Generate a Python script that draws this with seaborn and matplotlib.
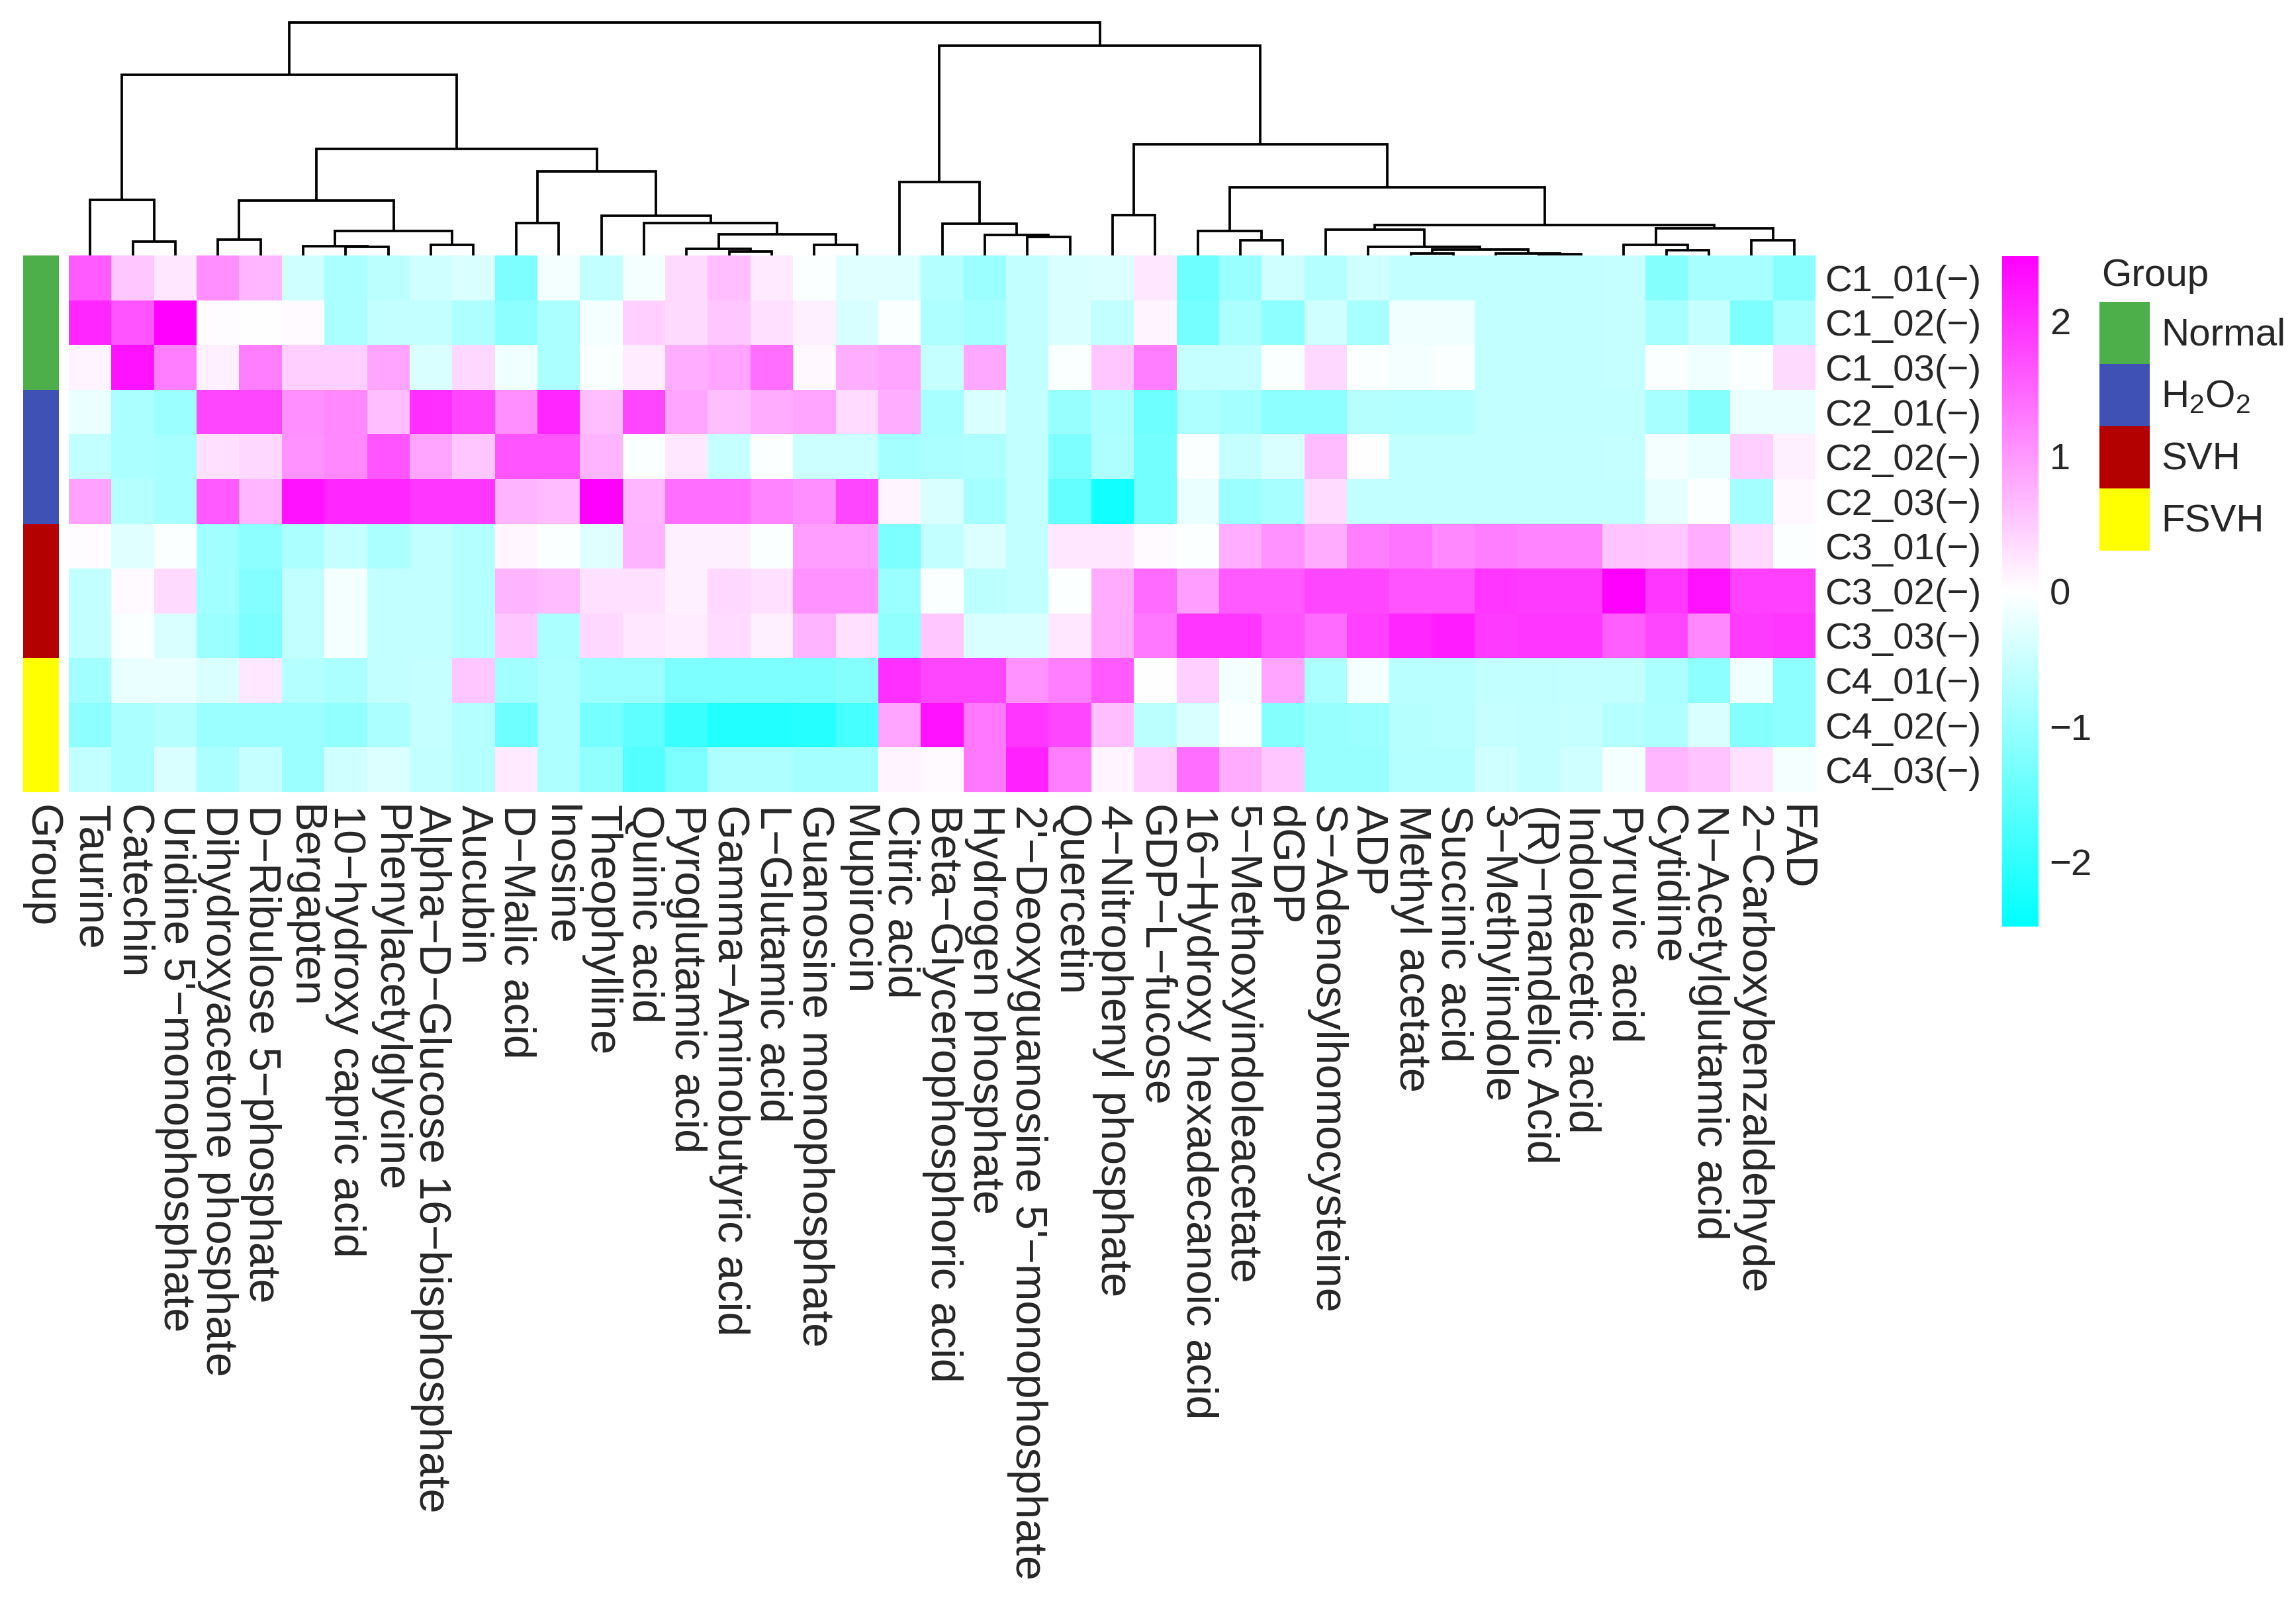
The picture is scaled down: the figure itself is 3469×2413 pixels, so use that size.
import numpy as np
import pandas as pd
import matplotlib
matplotlib.use("Agg")
import matplotlib.pyplot as plt
from matplotlib.colors import LinearSegmentedColormap, ListedColormap
from matplotlib.patches import Patch
import seaborn as sns

# ---- data ----
metabolites = [
    "Taurine", "Catechin", "Uridine 5'-monophosphate", "Dihydroxyacetone phosphate",
    "D-Ribulose 5-phosphate", "Bergapten", "10-hydroxy capric acid", "Phenylacetylglycine",
    "Alpha-D-Glucose 16-bisphosphate", "Aucubin", "D-Malic acid", "Inosine", "Theophylline",
    "Quinic acid", "Pyroglutamic acid", "Gamma-Aminobutyric acid", "L-Glutamic acid",
    "Guanosine monophosphate", "Mupirocin", "Citric acid", "Beta-Glycerophosphoric acid",
    "Hydrogen phosphate", "2'-Deoxyguanosine 5'-monophosphate", "Quercetin",
    "4-Nitrophenyl phosphate", "GDP-L-fucose", "16-Hydroxy hexadecanoic acid",
    "5-Methoxyindoleacetate", "dGDP", "S-Adenosylhomocysteine", "ADP", "Methyl acetate",
    "Succinic acid", "3-Methylindole", "(R)-mandelic Acid", "Indoleacetic acid",
    "Pyruvic acid", "Cytidine", "N-Acetylglutamic acid", "2-Carboxybenzaldehyde", "FAD",
]

samples = ["C1_01(-)", "C1_02(-)", "C1_03(-)", "C2_01(-)", "C2_02(-)", "C2_03(-)",
           "C3_01(-)", "C3_02(-)", "C3_03(-)", "C4_01(-)", "C4_02(-)", "C4_03(-)"]
sample_group = [0, 0, 0, 1, 1, 1, 2, 2, 2, 3, 3, 3]
group_names = ["Normal", r"H$_2$O$_2$", "SVH", "FSVH"]
group_colors = ["#4DAF4A", "#3F51B5", "#B30000", "#FFFF00"]

c1_01 = [1.6, 0.55, 0.22, 1.1, 0.7, -0.45, -0.8, -0.65, -0.45, -0.35,
         -1.25, -0.1, -0.6, -0.1, 0.35, 0.62, 0.2, -0.05, -0.3, -0.3,
         -0.72, -0.95, -0.6, -0.35, -0.33, 0.22, -1.4, -0.98, -0.45, -0.72,
         -0.45, -0.6, -0.6, -0.6, -0.6, -0.6, -0.55, -1.18, -0.85, -0.85, -1.15]
c1_02 = [2.1, 1.65, 2.5, 0.02, 0.0, 0.05, -0.8, -0.58, -0.58, -0.78,
         -1.1, -0.8, -0.1, 0.45, 0.35, 0.55, 0.3, 0.15, -0.38, -0.05,
         -0.78, -0.88, -0.6, -0.35, -0.6, 0.1, -1.32, -0.8, -1.1, -0.45,
         -0.85, -0.15, -0.15, -0.6, -0.6, -0.6, -0.55, -0.85, -0.55, -1.25, -0.8]
c1_03 = [0.1, 2.3, 1.25, 0.15, 1.25, 0.45, 0.45, 0.88, -0.35, 0.38,
         -0.15, -0.8, -0.05, 0.18, 0.78, 0.88, 1.4, 0.07, 0.78, 0.88,
         -0.55, 0.85, -0.6, -0.05, 0.55, 1.25, -0.55, -0.55, -0.05, 0.38,
         -0.05, -0.1, -0.05, -0.6, -0.6, -0.6, -0.55, -0.05, -0.15, -0.05, 0.35]
c2_01 = [-0.2, -0.8, -0.95, 1.8, 1.8, 1.1, 1.15, 0.62, 2.0, 1.8,
         1.1, 2.1, 0.62, 1.8, 0.88, 0.62, 0.8, 0.88, 0.33, 0.78,
         -0.85, -0.35, -0.6, -1.0, -0.8, -1.4, -0.78, -0.88, -1.1, -1.1,
         -0.7, -0.72, -0.72, -0.6, -0.6, -0.6, -0.6, -0.85, -1.18, -0.2, -0.2]
c2_02 = [-0.6, -0.8, -0.85, 0.3, 0.38, 1.05, 1.15, 1.65, 0.88, 0.55,
         1.65, 1.65, 0.73, -0.05, 0.22, -0.55, -0.02, -0.5, -0.5, -0.88,
         -0.8, -0.78, -0.6, -1.25, -0.78, -1.35, -0.05, -0.55, -0.35, 0.65,
         0.0, -0.6, -0.6, -0.6, -0.57, -0.57, -0.55, -0.1, -0.2, 0.45, 0.15]
c2_03 = [0.9, -0.7, -0.85, 1.6, 0.7, 2.3, 2.1, 2.1, 1.95, 1.95,
         0.73, 0.65, 2.5, 0.7, 1.4, 1.4, 1.2, 1.1, 1.8, 0.1,
         -0.35, -0.88, -0.6, -1.5, -2.3, -1.35, -0.2, -0.95, -0.85, 0.33,
         -0.6, -0.6, -0.6, -0.6, -0.6, -0.6, -0.6, -0.25, -0.05, -0.88, 0.07]
c3_01 = [0.03, -0.3, -0.05, -0.9, -1.1, -0.8, -0.55, -0.8, -0.6, -0.72,
         0.08, -0.05, -0.3, 0.73, 0.15, 0.15, -0.05, 0.93, 0.93, -1.25,
         -0.6, -0.33, -0.6, 0.22, 0.22, 0.05, -0.02, 0.78, 1.05, 0.8,
         1.25, 1.35, 1.15, 1.25, 1.2, 1.2, 0.57, 0.55, 0.78, 0.38, -0.03]
c3_02 = [-0.6, 0.05, 0.35, -0.9, -1.2, -0.6, -0.1, -0.6, -0.6, -0.72,
         0.73, 0.65, 0.3, 0.3, 0.15, 0.38, 0.3, 1.05, 1.05, -0.95,
         -0.05, -0.65, -0.6, -0.03, 0.8, 1.45, 0.93, 1.6, 1.6, 1.8,
         1.8, 1.65, 1.65, 1.95, 1.9, 1.9, 2.5, 1.95, 2.3, 1.85, 1.85]
c3_03 = [-0.6, -0.05, -0.35, -0.95, -1.25, -0.6, -0.1, -0.6, -0.6, -0.72,
         0.55, -0.8, 0.38, 0.22, 0.18, 0.33, 0.15, 0.73, 0.3, -1.05,
         0.55, -0.35, -0.35, 0.22, 0.8, 1.3, 1.95, 1.95, 1.65, 1.45,
         1.85, 2.1, 2.2, 1.9, 1.95, 1.95, 1.55, 1.8, 1.15, 1.9, 1.95]
c4_01 = [-0.9, -0.2, -0.2, -0.35, 0.22, -0.72, -0.8, -0.6, -0.55, 0.55,
         -0.9, -0.78, -0.95, -0.95, -1.25, -1.25, -1.25, -1.25, -1.18, 2.0,
         1.8, 1.8, 1.05, 1.25, 1.6, 0.0, 0.45, -0.1, 0.88, -0.8,
         -0.1, -0.67, -0.67, -0.6, -0.6, -0.57, -0.6, -0.8, -1.1, -0.15, -1.1]
c4_02 = [-1.1, -0.8, -0.7, -0.95, -0.95, -0.95, -1.05, -0.8, -0.55, -0.72,
         -1.4, -0.78, -1.32, -1.55, -1.9, -2.15, -2.15, -2.1, -1.8, 0.88,
         2.3, 1.3, 1.95, 1.8, 0.62, -0.65, -0.35, -0.05, -1.18, -1.0,
         -0.95, -0.7, -0.67, -0.55, -0.57, -0.55, -0.72, -0.78, -0.35, -1.18, -1.1]
c4_03 = [-0.6, -0.8, -0.35, -0.8, -0.55, -0.95, -0.45, -0.33, -0.6, -0.72,
         0.2, -0.78, -1.05, -1.65, -1.25, -0.78, -0.78, -0.88, -0.88, 0.1,
         0.05, 1.3, 2.15, 1.25, 0.1, 0.45, 1.4, 0.8, 0.55, -1.0,
         -1.0, -0.72, -0.72, -0.45, -0.57, -0.45, -0.1, 0.7, 0.57, 0.3, -0.1]

# column dendrogram: (merge height, left, right), leaves = column index
col_tree = (351.7,
            (272.7,
             (84, 0, (21, 1, 2)),
             (161,
              (83.5, (24, 3, 4), (37, (14, 5, (13, 6, 7)), (16, 8, 9))),
              (126.7, (49.3, 10, 11),
               (60, 12, (48.7, 13, (32, (10, 14, (6, 15, 16)), (16, 17, 18))))))),
            (316.7,
             (111, 19, (48, 20, (31, 21, (27.7, 22, 23)))),
             (168,
              (61, 24, 25),
              (103,
               (37, 26, (23.3, 27, 28)),
               (46,
                (39.3, 29, (12.7, 30, (9, (3, 31, 32), (3, 33, (2, 34, 35))))),
                (41, (16, 36, (8, 37, 38)), (23, 39, 40)))))))


def draw_tree(ax, node):
    if isinstance(node, int):
        return node + 0.5, 0.0
    h, left, right = node
    xl, hl = draw_tree(ax, left)
    xr, hr = draw_tree(ax, right)
    ax.plot([xl, xl, xr, xr], [hl, h, h, hr], color="black", lw=0.9,
            solid_capstyle="butt", solid_joinstyle="miter")
    return (xl + xr) / 2, h


def main() -> None:
    sns.set_theme(style="white")
    plt.rcParams["font.family"] = ["Liberation Sans", "DejaVu Sans"]
    plt.rcParams["mathtext.fontset"] = "custom"
    plt.rcParams["mathtext.rm"] = "Liberation Sans"
    plt.rcParams["mathtext.it"] = "Liberation Sans:italic"

    minus = "\u2212"
    col_labels = [s.replace("-", minus) for s in metabolites]
    row_labels = [s.replace("-", minus) for s in samples]

    df = pd.DataFrame([c1_01, c1_02, c1_03, c2_01, c2_02, c2_03,
                       c3_01, c3_02, c3_03, c4_01, c4_02, c4_03],
                      index=row_labels, columns=col_labels)
    grp = pd.DataFrame({"Group": sample_group}, index=row_labels)

    W, H = 3469, 2413

    def box(x0, y0, x1, y1):
        return [x0 / W, 1 - y1 / H, (x1 - x0) / W, (y1 - y0) / H]

    fig = plt.figure(figsize=(W / 300, H / 300), dpi=300)
    ax_heat = fig.add_axes(box(104, 386, 2743, 1197))
    ax_dend = fig.add_axes(box(104, 30, 2743, 386))
    ax_grp = fig.add_axes(box(35, 386, 89, 1197))
    ax_cbar = fig.add_axes(box(3025, 387, 3080, 1400))

    cmap = LinearSegmentedColormap.from_list("cwm", ["#00FFFF", "#FFFFFF", "#FF00FF"])
    sns.heatmap(df, ax=ax_heat, cmap=cmap, vmin=-2.48, vmax=2.48,
                cbar_ax=ax_cbar, xticklabels=True, yticklabels=True)

    ax_heat.yaxis.tick_right()
    ax_heat.set_yticklabels(row_labels, rotation=0, fontsize=13.5)
    ax_heat.set_xticklabels(col_labels, rotation=270, fontsize=16)
    ax_heat.tick_params(axis="y", length=0, pad=3.5)
    ax_heat.tick_params(axis="x", length=0, pad=4.5)
    ax_heat.set_xlabel("")
    ax_heat.set_ylabel("")

    cbar = ax_heat.collections[0].colorbar
    cbar.set_ticks([-2, -1, 0, 1, 2])
    cbar.outline.set_visible(False)
    ax_cbar.tick_params(length=0, labelsize=13.5, pad=4)

    # group annotation bar
    sns.heatmap(grp, ax=ax_grp, cmap=ListedColormap(group_colors), vmin=-0.5, vmax=3.5,
                cbar=False, xticklabels=True, yticklabels=False)
    ax_grp.set_xticklabels(["Group"], rotation=270, fontsize=16)
    ax_grp.tick_params(axis="x", length=0, pad=4.5)
    ax_grp.set_ylabel("")

    # dendrogram
    draw_tree(ax_dend, col_tree)
    ax_dend.set_xlim(0, len(metabolites))
    ax_dend.set_ylim(0, 356)
    ax_dend.axis("off")

    # legend
    fig.text(3175 / W, 1 - 417 / H, "Group", ha="left", va="center", fontsize=14)
    handles = [Patch(facecolor=c, edgecolor="none", label=l)
               for c, l in zip(group_colors, group_names)]
    fig.legend(handles=handles, loc="upper left",
               bbox_to_anchor=(3172 / W, 1 - 456 / H), frameon=False,
               fontsize=14, handlelength=1.3, handleheight=2.1,
               handletextpad=0.3, labelspacing=0,
               borderpad=0, borderaxespad=0)

    fig.savefig("out.png", dpi=300)


if __name__ == "__main__":
    main()
